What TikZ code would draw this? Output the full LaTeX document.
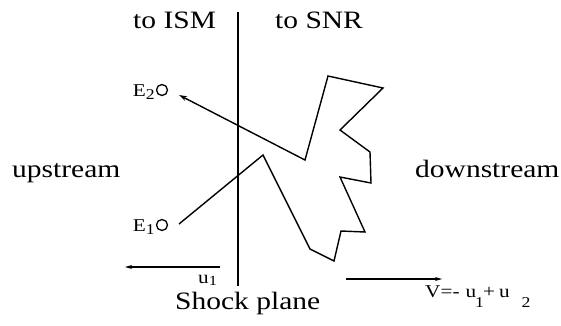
\documentclass[tikz,border=0pt]{standalone}
\usepackage{fontspec}
\setmainfont{Liberation Serif}[FakeStretch=1.18]
\usetikzlibrary{arrows.meta}
\begin{document}
\begin{tikzpicture}[x=1pt,y=-1pt,
  lbl/.style={font=\fontsize{25}{28}\selectfont, inner sep=0pt, anchor=base west},
  small/.style={font=\fontsize{18}{20}\selectfont, inner sep=0pt},
  ring/.style={circle, draw, line width=1.3pt, minimum size=11pt, inner sep=0pt},
  path/.style={line width=1.4pt, line join=miter},
  vel/.style={line width=1.4pt, -{Stealth[length=7pt,width=4pt]}}]
\useasboundingbox (0,0) rectangle (561,325);
% shock plane
\coordinate (stop) at (238,12);
\coordinate (sbot) at (238,286);
\draw[line width=2.8pt] (stop) -- (sbot);
% labels
\node[lbl] (ism) at (133,28) {to ISM};
\node[lbl] (snr) at (275,28) {to SNR};
\node[lbl] (up) at (12,177) {upstream};
\node[lbl] (down) at (415,177) {downstream};
\node[lbl] (shock) at (175,309) {Shock plane};
% E points
\node[ring] (e2) at (162,90) {};
\node[ring] (e1) at (162,225) {};
\node[small, anchor=base east] (e2l) at ([xshift=-1pt,yshift=-6pt]e2.west) {E\raisebox{-0.4ex}{\fontsize{15}{16}\selectfont 2}};
\node[small, anchor=base east] (e1l) at ([xshift=-1pt,yshift=-6pt]e1.west) {E\raisebox{-0.4ex}{\fontsize{15}{16}\selectfont 1}};
% path
\coordinate (tip) at (179,95);
\coordinate (p1) at (305,160);
\coordinate (p2) at (328,76);
\coordinate (p3) at (383,88);
\coordinate (p4) at (340,130);
\coordinate (p5) at (370,152);
\coordinate (p6) at (371,183);
\coordinate (p7) at (340,177);
\coordinate (p8) at (365,232);
\coordinate (p9) at (341,231);
\coordinate (p10) at (334,261);
\coordinate (p11) at (310,249);
\coordinate (p12) at (263,155);
\coordinate (start) at (179,224);
\draw[path, -{Stealth[length=8pt,width=5pt]}] (start) -- (p12) -- (p11) -- (p10) -- (p9) -- (p8) -- (p7) -- (p6) -- (p5) -- (p4) -- (p3) -- (p2) -- (p1) -- (tip);
% velocity arrows
\coordinate (u1a) at (220,267);
\coordinate (u1b) at (125,267);
\draw[vel] (u1a) -- (u1b);
\node[small, anchor=base west] (u1) at (198,283) {u\raisebox{-0.35ex}{\fontsize{14}{15}\selectfont 1}};
\coordinate (va) at (346,279);
\coordinate (vb) at (442,279);
\draw[vel] (va) -- (vb);
\node[small, anchor=base west] (vl) at (425,297) {V=-\hspace{6pt}u\kern-1pt\raisebox{-1.3ex}{\fontsize{15}{16}\selectfont 1}\kern-1pt+\hspace{4pt}u\hspace{12pt}\raisebox{-1.3ex}{\fontsize{15}{16}\selectfont 2}};
\end{tikzpicture}
\end{document}
